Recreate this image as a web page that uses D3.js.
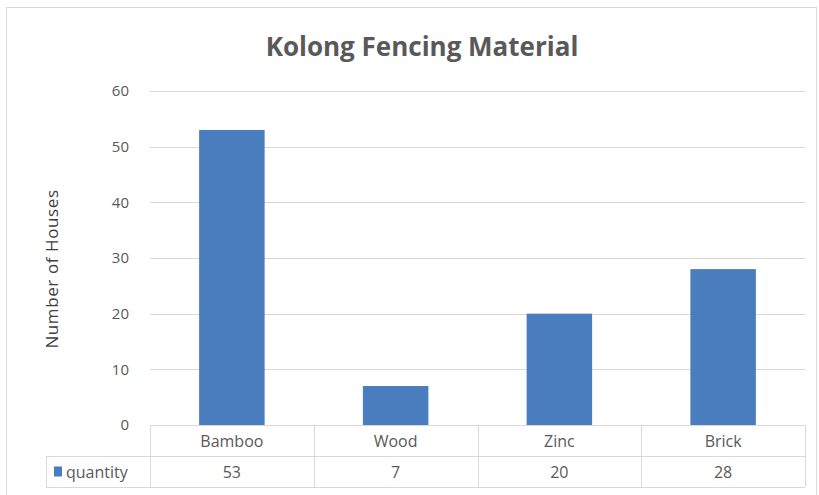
<!DOCTYPE html>
<html><head><meta charset="utf-8">
<script src="https://cdn.jsdelivr.net/npm/d3@7"></script>
<style>body{margin:0;background:#fff;} svg{display:block;}</style>
</head><body>
<svg id="c" width="819" height="495"></svg>
<script>
const categories = ["Bamboo", "Wood", "Zinc", "Brick"];
const quantity = [53, 7, 20, 28];
const yTicks = [0, 10, 20, 30, 40, 50, 60];
const seriesName = "quantity";
const title = "Kolong Fencing Material";
const yLabel = "Number of Houses";

const svg = d3.select("#c");
const font = "'Open Sans', 'Liberation Sans', sans-serif";
const gray = "#595959";
const barColor = "#4a7dbd";

// chart border
svg.append("rect").attr("x", 6.5).attr("y", 7.5).attr("width", 810).attr("height", 490)
  .attr("fill", "#fff").attr("stroke", "#d9d9d9");

const pLeft = 150, pRight = 805, pTop = 91, pBottom = 425;
const x = d3.scaleBand().domain(categories).range([pLeft, pRight]).paddingInner(0.6).paddingOuter(0.3);
const xCell = d3.scaleBand().domain(categories).range([pLeft, pRight]);
const y = d3.scaleLinear().domain([0, 60]).range([pBottom, pTop]);

// gridlines
svg.append("g").selectAll("line").data(yTicks.filter(d => d > 0)).join("line")
  .attr("x1", pLeft).attr("x2", pRight)
  .attr("y1", d => Math.round(y(d)) + 0.5).attr("y2", d => Math.round(y(d)) + 0.5)
  .attr("stroke", "#d9d9d9").attr("stroke-width", 1);

// y axis labels via d3 axis
const yAxis = svg.append("g").attr("transform", `translate(${pLeft - 21},0)`)
  .call(d3.axisLeft(y).tickValues(yTicks).tickSize(0).tickPadding(0));
yAxis.select(".domain").remove();
yAxis.selectAll("text").attr("fill", gray).style("font-family", font).style("font-size", "15px");

// bars
svg.append("g").selectAll("rect").data(categories).join("rect")
  .attr("x", d => x(d)).attr("width", x.bandwidth())
  .attr("y", (d, i) => y(quantity[i])).attr("height", (d, i) => y(0) - y(quantity[i]))
  .attr("fill", barColor);

// data table
const rowH = 31;
const tbl = svg.append("g").attr("stroke", "#d9d9d9").attr("stroke-width", 1).attr("fill", "none");
tbl.append("line").attr("x1", pLeft).attr("x2", pRight).attr("y1", pBottom + 0.5).attr("y2", pBottom + 0.5);
tbl.append("line").attr("x1", 46).attr("x2", pRight).attr("y1", pBottom + rowH + 0.5).attr("y2", pBottom + rowH + 0.5);
tbl.append("line").attr("x1", 46).attr("x2", pRight).attr("y1", pBottom + 2 * rowH + 0.5).attr("y2", pBottom + 2 * rowH + 0.5);
const vx = [pLeft].concat(categories.map(c => xCell(c) + xCell.bandwidth()));
tbl.selectAll("line.v").data(vx).join("line").attr("class", "v")
  .attr("x1", d => Math.round(d) + 0.5).attr("x2", d => Math.round(d) + 0.5)
  .attr("y1", pBottom).attr("y2", pBottom + 2 * rowH);
tbl.append("line").attr("x1", 46.5).attr("x2", 46.5).attr("y1", pBottom + rowH).attr("y2", pBottom + 2 * rowH);

// category labels
svg.append("g").selectAll("text").data(categories).join("text")
  .attr("x", d => xCell(d) + xCell.bandwidth() / 2).attr("y", pBottom + rowH / 2 + 6)
  .attr("text-anchor", "middle").attr("fill", gray)
  .style("font-family", font).style("font-size", "16px").text(d => d);
// values
svg.append("g").selectAll("text").data(categories).join("text")
  .attr("x", d => xCell(d) + xCell.bandwidth() / 2).attr("y", pBottom + rowH + rowH / 2 + 6)
  .attr("text-anchor", "middle").attr("fill", gray)
  .style("font-family", font).style("font-size", "16px").text((d, i) => quantity[i]);
// legend key
svg.append("rect").attr("x", 54).attr("y", pBottom + rowH + rowH / 2 - 5).attr("width", 8).attr("height", 10).attr("fill", barColor);
svg.append("text").attr("x", 66).attr("y", pBottom + rowH + rowH / 2 + 6).attr("fill", gray)
  .style("font-family", font).style("font-size", "16px").text(seriesName);

// title
svg.append("text").attr("x", 422).attr("y", 56).attr("text-anchor", "middle")
  .attr("fill", gray).style("font-family", font).style("font-size", "26px").style("font-weight", "bold")
  .text(title);

// y label
svg.append("text").attr("transform", `translate(58,269) rotate(-90)`)
  .attr("text-anchor", "middle").attr("fill", "#404040")
  .style("font-family", font).style("font-size", "17px").style("letter-spacing", "0.6px").text(yLabel);
</script>
</body></html>
